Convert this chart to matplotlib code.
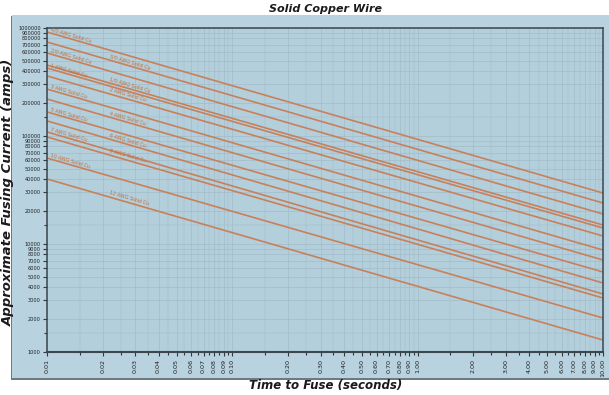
import numpy as np
import matplotlib.pyplot as plt
from matplotlib.patches import Rectangle
from matplotlib.ticker import FixedLocator, FuncFormatter, NullFormatter

# wire sizes, top (highest current) to bottom
wires = ["4/0 AWG Solid Cu", "3/0 AWG Solid Cu", "2/0 AWG Solid Cu", "1/0 AWG Solid Cu",
         "1 AWG Solid Cu", "2 AWG Solid Cu", "3 AWG Solid Cu", "4 AWG Solid Cu",
         "5 AWG Solid Cu", "6 AWG Solid Cu", "7 AWG Solid Cu", "8 AWG Solid Cu",
         "10 AWG Solid Cu", "12 AWG Solid Cu"]
t_start, t_end = 0.01, 10.0
amps_start = [918000, 742000, 587000, 454000, 426000, 360000, 272000,
              220000, 167000, 138000, 109000, 98000, 62500, 40000]
amps_end = [29650, 23970, 18950, 14990, 14060, 11860, 8795,
            7110, 5505, 4355, 3444, 3162, 2065, 1291]

xticks = [0.01, 0.02, 0.03, 0.04, 0.05, 0.06, 0.07, 0.08, 0.09, 0.10,
          0.2, 0.3, 0.4, 0.5, 0.6, 0.7, 0.8, 0.9, 1.0,
          2, 3, 4, 5, 6, 7, 8, 9, 10]
xminor = [0.015, 0.025, 0.035, 0.045, 0.055, 0.065, 0.075, 0.085, 0.095,
          0.15, 0.25, 0.35, 0.45, 0.55, 0.65, 0.75, 0.85, 0.95,
          1.5, 2.5, 3.5, 4.5, 5.5, 6.5, 7.5, 8.5, 9.5]
yticks = [1000, 2000, 3000, 4000, 5000, 6000, 7000, 8000, 9000,
          10000, 20000, 30000, 40000, 50000, 60000, 70000, 80000, 90000,
          100000, 200000, 300000, 400000, 500000, 600000, 700000, 800000, 900000, 1000000]
yminor = [1500, 15000, 150000]

line_col = '#c8805a'
text_col = '#c46c34'
panel_col = '#b8d2df'
axes_col = '#b4cfdc'
grid_col = '#a0bac7'

fig = plt.figure(figsize=(6.09, 3.95), dpi=100)
fig.patch.set_facecolor('white')

# background panel with a thin drop shadow
W, H = 609.0, 395.0
fig.add_artist(Rectangle((11 / W, 1 - 380 / H), 598 / W, 364 / H, transform=fig.transFigure,
                         facecolor='#6d7a84', edgecolor='none', zorder=0))
fig.add_artist(Rectangle((12 / W, 1 - 378 / H), 597 / W, 363 / H, transform=fig.transFigure,
                         facecolor=panel_col, edgecolor='none', zorder=0))

ax = fig.add_axes([47 / W, 1 - 352 / H, 556 / W, 324 / H])
ax.set_facecolor(axes_col)
ax.set_xscale('log')
ax.set_yscale('log')
ax.set_xlim(0.01, 10)
ax.set_ylim(1000, 1000000)

ax.xaxis.set_major_locator(FixedLocator(xticks))
ax.xaxis.set_minor_locator(FixedLocator(xminor))
ax.xaxis.set_major_formatter(FuncFormatter(lambda v, p: '%.2f' % v))
ax.xaxis.set_minor_formatter(NullFormatter())
ax.yaxis.set_major_locator(FixedLocator(yticks))
ax.yaxis.set_minor_locator(FixedLocator(yminor))
ax.yaxis.set_major_formatter(FuncFormatter(lambda v, p: '%d' % v))
ax.yaxis.set_minor_formatter(NullFormatter())

ax.tick_params(axis='x', which='major', labelsize=4.6, rotation=90, length=3, width=0.8,
               color='#303840', labelcolor='#202020', pad=2)
ax.tick_params(axis='y', which='major', labelsize=3.6, length=3, width=0.8,
               color='#303840', labelcolor='#202020', pad=1.5)
ax.tick_params(which='minor', length=2.5, width=0.8, color='#303840')

ax.grid(True, which='major', color=grid_col, lw=0.45)
ax.grid(True, which='minor', color=grid_col, lw=0.35)
ax.set_axisbelow(True)
for s in ax.spines.values():
    s.set_color('#3c464e')
    s.set_linewidth(1.1)
ax.spines['bottom'].set_linewidth(1.5)

for amp0, amp1 in zip(amps_start, amps_end):
    ax.plot([t_start, t_end], [amp0, amp1], color=line_col, lw=1.2, solid_capstyle='butt')

# text angle follows the lines on screen
fig.canvas.draw()
p0 = ax.transData.transform((t_start, amps_start[0]))
p1 = ax.transData.transform((t_end, amps_end[0]))
angle = np.degrees(np.arctan2(p1[1] - p0[1], p1[0] - p0[0]))

for i, (name, amp0, amp1) in enumerate(zip(wires, amps_start, amps_end)):
    tx = 0.0104 if i % 2 == 0 else 0.0215
    frac = np.log10(tx / t_start) / np.log10(t_end / t_start)
    ty = 10 ** (np.log10(amp0) + frac * (np.log10(amp1) - np.log10(amp0)))
    ax.text(tx, ty * 1.03, name, fontsize=3.5, color=text_col, rotation=angle,
            rotation_mode='anchor', ha='left', va='bottom')

fig.text(0.535, 1 - 9 / H, 'Solid Copper Wire', ha='center', va='center',
         fontsize=8, fontweight='bold', fontstyle='italic', color='#1a1a1a')
fig.text(0.535, 1 - 385 / H, 'Time to Fuse (seconds)', ha='center', va='center',
         fontsize=8.5, fontweight='bold', fontstyle='italic', color='#1a1a1a')
fig.text(8 / W, 1 - 192 / H, 'Approximate Fusing Current (amps)', ha='center', va='center',
         rotation=90, fontsize=9.5, fontweight='bold', fontstyle='italic', color='#1a1a1a')

fig.savefig('out.png', dpi=100)
